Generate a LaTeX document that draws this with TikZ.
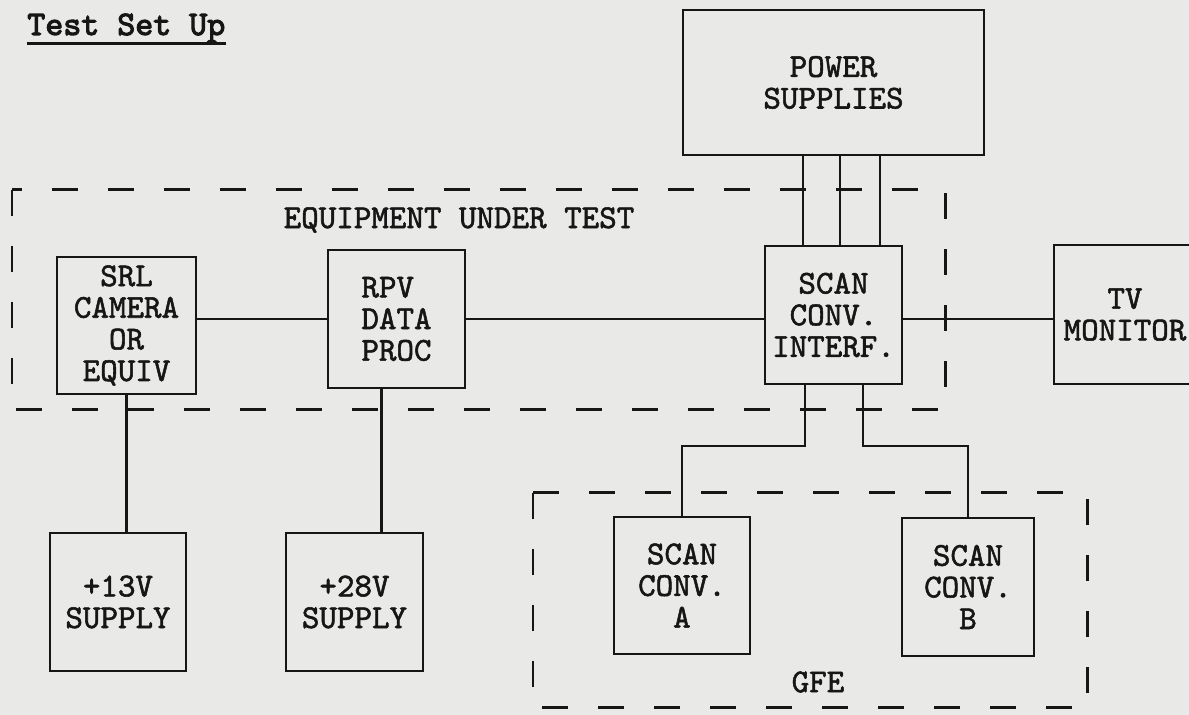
\documentclass[tikz,border=0pt]{standalone}
\usepackage{fontspec}
\usepackage{tikz}
\usetikzlibrary{positioning, calc}
\newfontfamily\typefont{lmmono10-regular.otf}[FakeBold=1.6]
\newfontfamily\headfont{lmmono10-regular.otf}[FakeBold=3.2]
\definecolor{paper}{RGB}{233,233,231}
\definecolor{ink}{RGB}{22,22,22}
\newcommand{\typer}{\fontsize{19pt}{18pt}\selectfont\typefont}
\tikzset{
  unit/.style={rectangle, draw=ink, line width=1.4pt, minimum width=2.74cm,
    minimum height=2.76cm, align=center, font=\typer, text=ink, inner sep=0pt},
  group/.style={draw=ink, line width=1.7pt, dash pattern=on 0.52cm off 0.6cm},
  wire/.style={draw=ink, line width=1.4pt},
  caption/.style={font=\typer, text=ink}
}

\begin{document}
\begin{tikzpicture}
  \useasboundingbox (0,0) rectangle (23.78,14.30);
  % Paper
  \fill[paper] (0,0) rectangle (23.78,14.30);
  % Title
  \node[caption, font=\fontsize{19.5pt}{18pt}\selectfont\headfont, anchor=base west, inner sep=0pt] (title) at (0.54,13.60) {Test Set Up};
  \draw[wire, line width=2pt] ([yshift=-0.17cm]title.base west) -- ([yshift=-0.17cm]title.base east);
  % Equipment under test and GFE
  \draw[group] (0.24,10.50) rectangle (18.90,6.10);
  \draw[group] (10.66,4.44) rectangle (21.74,0.14);
  \node[caption] (eutlabel) at (9.18,9.90) {EQUIPMENT UNDER TEST};
  \node[caption] (gfelabel) at (16.36,0.66) {GFE};
  % Units
  \node[unit, minimum width=6.02cm, minimum height=2.90cm] (power) at (16.67,12.65) {POWER\\SUPPLIES};
  \node[unit, minimum width=2.78cm, minimum height=2.74cm] (camera) at (2.53,7.79) {SRL\\CAMERA\\OR\\EQUIV};
  \node[unit, align=left] (proc) at (7.93,7.92) {RPV\\DATA\\PROC};
  \node[unit] (interf) at (16.67,8.00) {SCAN\\CONV.\\INTERF.};
  \node[unit, draw=none, minimum width=2.80cm, minimum height=2.74cm] (tv) at (22.50,8.01) {TV\\MONITOR};
  \node[unit, minimum width=2.72cm] (sup13) at (2.36,2.26) {+13V\\SUPPLY};
  \node[unit] (sup28) at (7.09,2.26) {+28V\\SUPPLY};
  \node[unit, minimum width=2.72cm, minimum height=2.74cm] (conva) at (13.64,2.59) {SCAN\\CONV.\\A};
  \node[unit, minimum width=2.64cm] (convb) at (19.36,2.56) {SCAN\\CONV.\\B};
  % TV monitor runs off the sheet
  \draw[wire] (tv.north east) -- (tv.north west) -- (tv.south west) -- (tv.south east);
  % Signal path
  \draw[wire] (proc.west) -- (proc.west -| camera.east);
  \draw[wire] (proc.east) -- (proc.east -| interf.west);
  \draw[wire] (proc.east -| interf.east) -- (proc.east -| tv.west);
  % Supplies
  \draw[wire] (camera.south) -- (camera.south |- sup13.north);
  \draw[wire] ([xshift=-0.3cm]proc.south) -- ([xshift=-0.3cm]proc.south |- sup28.north);
  \foreach \dx in {-0.61,0.13,0.93}
    \draw[wire] ([xshift=\dx cm]power.south) -- ([xshift=\dx cm]interf.north);
  % Converters
  \draw[wire] ([xshift=-0.57cm]interf.south) -- ++(0,-1.22) -| (conva.north);
  \draw[wire] ([xshift=0.59cm]interf.south) -- ++(0,-1.22) -| (convb.north);
\end{tikzpicture}
\end{document}
